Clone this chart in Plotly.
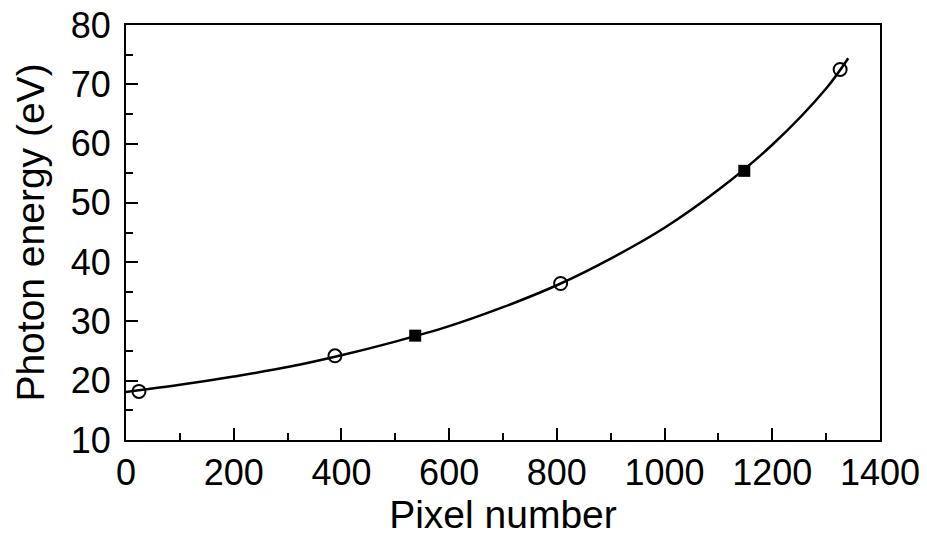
import plotly.graph_objects as go

# Measured calibration points (open circles)
circle_x = [24, 388, 807, 1326]
circle_y = [18.2, 24.2, 36.4, 72.5]

# Calibration points (filled squares)
square_x = [537, 1148]
square_y = [27.6, 55.4]

# Fitted curve
curve_x = [0, 100, 200, 300, 400, 500, 600, 700, 800, 900, 1000, 1100, 1200, 1300, 1341]
curve_y = [18.1, 19.3, 20.7, 22.3, 24.3, 26.6, 29.2, 32.4, 36.1, 40.6, 45.8, 52.2, 59.8, 69.3, 74.4]

x_ticks = [0, 200, 400, 600, 800, 1000, 1200, 1400]
y_ticks = [10, 20, 30, 40, 50, 60, 70, 80]

font_family = "Liberation Sans, Arial, sans-serif"

fig = go.Figure()
fig.add_trace(go.Scatter(
    x=curve_x, y=curve_y, mode="lines", line=dict(color="black", width=2.5, shape="spline", smoothing=1),
    showlegend=False, hoverinfo="skip"))
fig.add_trace(go.Scatter(
    x=circle_x, y=circle_y, mode="markers",
    marker=dict(symbol="circle-open", size=13, color="black", line=dict(width=2, color="black")),
    showlegend=False))
fig.add_trace(go.Scatter(
    x=square_x, y=square_y, mode="markers",
    marker=dict(symbol="square", size=12, color="black", line=dict(width=0)),
    showlegend=False))

axis_common = dict(
    showline=True, linecolor="black", linewidth=2, mirror=True,
    showgrid=False, zeroline=False, automargin=False,
    ticks="inside", ticklen=12, tickwidth=2, tickcolor="black",
    tickfont=dict(family=font_family, size=36, color="black"),
)

fig.update_xaxes(
    range=[0, 1400], tickvals=x_ticks, ticktext=[str(v) for v in x_ticks],
    minor=dict(ticks="inside", ticklen=7, tickwidth=2, tickcolor="black", dtick=100),
    title=dict(text="Pixel number", font=dict(family=font_family, size=39, color="black"), standoff=2),
    **axis_common)
fig.update_yaxes(
    range=[10, 80], tickvals=y_ticks, ticktext=[str(v) for v in y_ticks],
    minor=dict(ticks="inside", ticklen=7, tickwidth=2, tickcolor="black", dtick=5),
    title=dict(text="Photon energy (eV)", font=dict(family=font_family, size=39, color="black"), standoff=14),
    ticklabelstandoff=6,
    **axis_common)

fig.update_layout(
    width=927, height=542,
    margin=dict(l=126, r=47, t=25, b=102),
    paper_bgcolor="white", plot_bgcolor="white",
    font=dict(family=font_family, color="black"),
)

fig.write_html("out.html", config={"displayModeBar": False},
               post_script="document.body.style.margin='0';document.body.style.overflow='hidden';")
